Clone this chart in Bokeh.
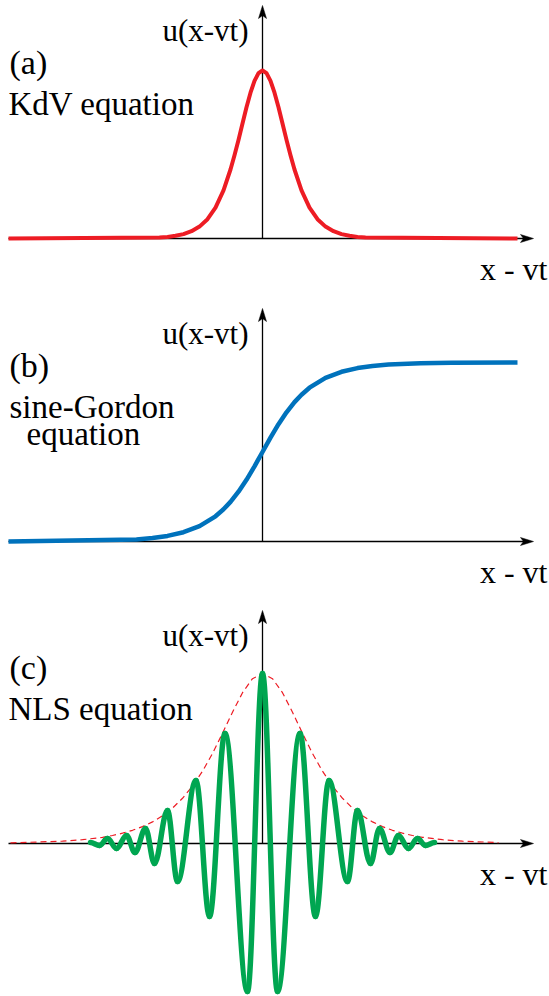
from bokeh.plotting import figure
from bokeh.layouts import column
from bokeh.models import Label, Range1d
from bokeh.embed import file_html
from bokeh.resources import INLINE

# ---- data (x measured from the vertical axis, u measured from the horizontal axis) ----
# (a) KdV soliton
kdv_x = [-254, -103, -95, -87, -79, -71, -63, -55, -47, -39, -32, -28, -24, -20, -16, -12, -8, -4,
         0, 4, 8, 12, 16, 20, 24, 28, 32, 39, 47, 55, 63, 71, 79, 87, 95, 103, 255]
kdv_u = [0.0, 1.0, 1.6, 2.7, 4.4, 7.3, 11.9, 19.3, 30.8, 48.1, 69.0, 83.2, 98.6, 115.0, 131.2, 145.8, 157.6, 165.3,
         168.0, 165.3, 157.6, 145.8, 131.2, 115.0, 98.6, 83.2, 69.0, 48.1, 30.8, 19.3, 11.9, 7.3, 4.4, 2.7, 1.6, 1.0, 0.0]

# (b) sine-Gordon kink
sg_x = [-254, -126, -110, -95, -79, -63, -47, -39, -32, -24, -16, -8, 0, 8, 16, 24, 32, 39, 47,
        63, 79, 95, 110, 126, 158, 189, 255]
sg_u = [0.0, 2.1, 3.5, 5.6, 9.3, 15.3, 25.2, 32.2, 39.6, 49.8, 61.7, 75.2, 89.5, 103.8, 117.3, 129.2, 139.4, 146.8, 153.8,
        163.7, 169.7, 173.4, 175.5, 176.9, 178.2, 178.7, 179.0]

# (c) NLS envelope soliton: envelope and the extrema of the carrier wave
env_x = [-252, -200, -180, -160, -150, -140, -130, -120, -110, -100, -90, -80, -70, -60, -50, -40, -30, -20, -10,
         0, 10, 20, 30, 40, 50, 60, 70, 80, 90, 100, 110, 120, 130, 140, 150, 160, 180, 200, 236]
env_u = [0.6, 2.3, 3.8, 6.2, 8.0, 10.3, 13.2, 16.9, 21.6, 27.7, 35.4, 45.2, 57.4, 72.3, 90.0, 110.2, 131.3, 150.8, 164.8,
         170.0, 164.8, 150.8, 131.3, 110.2, 90.0, 72.3, 57.4, 45.2, 35.4, 27.7, 21.6, 16.9, 13.2, 10.3, 8.0, 6.2, 3.8, 2.3, 0.9]

wave_x = [-172, -163, -155, -146, -136, -127.5, -117, -108, -95, -85, -66.5, -53, -37.5, -15,
          0, 15, 37.5, 53, 66.5, 85, 95, 108, 117, 127.5, 136, 146, 155, 163, 172]
wave_u = [1, -2, 5, -5, 8, -9, 15, -20, 33, -38, 63, -73, 110, -148,
          170, -148, 110, -73, 63, -38, 33, -20, 15, -9, 8, -5, 5, -2, 1]

panel_tags = ["(a)", "(b)", "(c)"]
axis_v_label = "u(x-vt)"
axis_h_label = "x - vt"

# ---- style / layout ----
FONT = "Liberation Serif"
RED = "#ED1C24"
BLUE = "#0072BC"
GREEN = "#00A651"
W = 549
X_LO, X_HI = -262, 287
AX_START, AX_TIP = -254, 271
AY_TIP = 233
HEAD_L, HEAD_W, HEAD_N = 13, 4, 3


def panel(height, ytop, ybot):
    p = figure(width=W, height=height, x_range=Range1d(X_LO, X_HI), y_range=Range1d(ybot, ytop),
               output_backend="svg", toolbar_location=None, min_border=0,
               x_axis_location=None, y_axis_location=None)
    p.grid.visible = False
    p.outline_line_color = None
    p.background_fill_color = "white"
    p.border_fill_color = "white"
    # horizontal axis with arrow
    p.line([AX_START, AX_TIP - HEAD_N - 2], [0, 0], line_color="black", line_width=1.4)
    p.patch([AX_TIP, AX_TIP - HEAD_L, AX_TIP - HEAD_L + HEAD_N, AX_TIP - HEAD_L],
            [0, HEAD_W, 0, -HEAD_W], color="black", line_width=0.5)
    # vertical axis with arrow
    p.line([0, 0], [0, AY_TIP - HEAD_N - 2], line_color="black", line_width=1.3)
    p.patch([0, -HEAD_W, 0, HEAD_W],
            [AY_TIP, AY_TIP - HEAD_L, AY_TIP - HEAD_L + HEAD_N, AY_TIP - HEAD_L], color="black", line_width=0.5)
    p.add_layout(Label(x=-14, y=208, text=axis_v_label, text_font=FONT, text_font_size="31px",
                       text_align="right", text_baseline="alphabetic", text_color="black"))
    p.add_layout(Label(x=285, y=-30, text=axis_h_label, text_font=FONT, text_font_size="32px",
                       text_align="right", text_baseline="alphabetic", text_color="black"))
    return p


def tag(p, t, lines, xs):
    p.add_layout(Label(x=-253, y=176, text=t, text_font=FONT, text_font_size="34px",
                       text_align="left", text_baseline="alphabetic", text_color="black"))
    yy = 135
    for ln, x in zip(lines, xs):
        p.add_layout(Label(x=x, y=yy, text=ln, text_font=FONT, text_font_size="33px",
                           text_align="left", text_baseline="alphabetic", text_color="black"))
        yy -= 27


pa = panel(300, 238, -62)
pa.line(kdv_x, kdv_u, line_color=RED, line_width=4, line_join="round")
tag(pa, panel_tags[0], ["KdV equation"], [-254])

pb = panel(303, 241, -62)
pb.line(sg_x, sg_u, line_color=BLUE, line_width=4.5, line_join="round")
tag(pb, panel_tags[1], ["sine-Gordon", "equation"], [-253, -236])

pc = panel(393, 240, -153)
pc.line(env_x, env_u, line_color=RED, line_width=1.2, line_dash="6 4")
# smooth carrier wave: cubic segments between successive extrema (horizontal tangents)
K = 0.36
x0 = wave_x[:-1]
x1 = wave_x[1:]
y0 = wave_u[:-1]
y1 = wave_u[1:]
cx0 = [a + K * (b - a) for a, b in zip(x0, x1)]
cx1 = [b - K * (b - a) for a, b in zip(x0, x1)]
pc.bezier(x0=x0, y0=y0, x1=x1, y1=y1, cx0=cx0, cy0=y0, cx1=cx1, cy1=y1,
          line_color=GREEN, line_width=5.5, line_cap="round")
tag(pc, panel_tags[2], ["NLS equation"], [-254])

layout = column(pa, pb, pc, spacing=0)
open("out.html", "w").write(file_html(layout, INLINE))
